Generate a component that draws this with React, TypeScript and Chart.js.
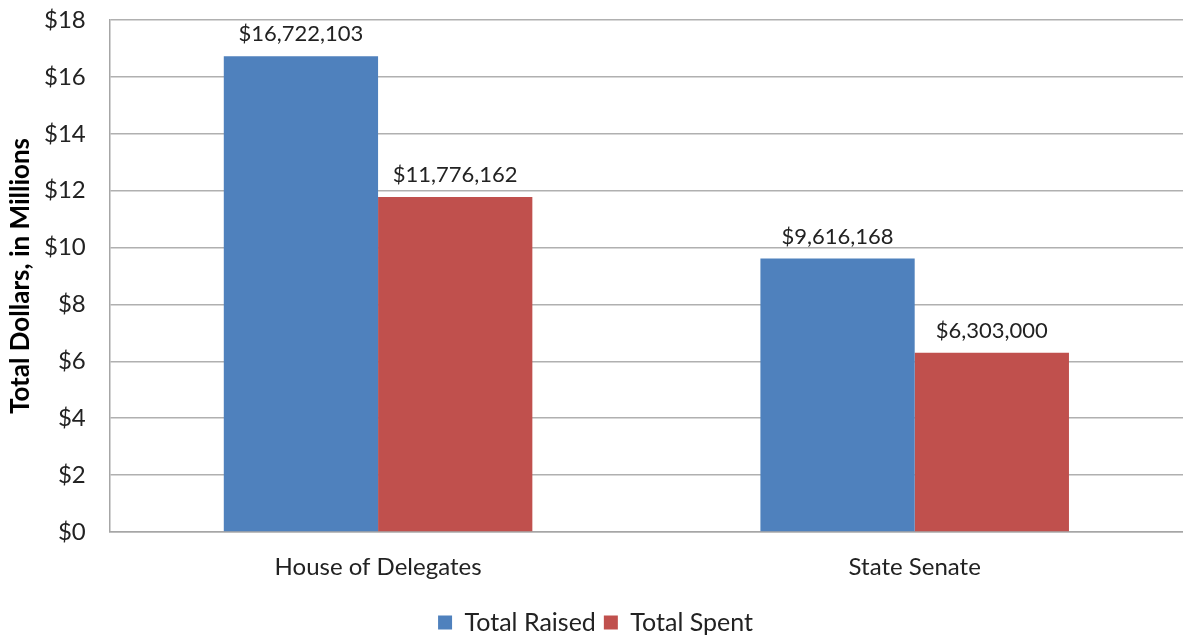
import React, { useEffect, useRef } from "react";
import { Chart, registerables } from "chart.js";

Chart.register(...registerables);

const categories = ["House of Delegates", "State Senate"];
const seriesNames = ["Total Raised", "Total Spent"];
const totalRaised = [16722103, 9616168];
const totalSpent = [11776162, 6303000];
const yTicks = [0, 2, 4, 6, 8, 10, 12, 14, 16, 18];
const colors = ["#4F81BD", "#C0504D"];

const fmt = (v: number) => "$" + v.toLocaleString("en-US");

const labelPlugin = {
  id: "valueLabels",
  afterDatasetsDraw(chart: any) {
    const ctx = chart.ctx;
    ctx.save();
    ctx.font = "22px Lato";
    ctx.fillStyle = "#222";
    ctx.textAlign = "center";
    ctx.textBaseline = "bottom";
    chart.data.datasets.forEach((ds: any, i: number) => {
      const meta = chart.getDatasetMeta(i);
      meta.data.forEach((el: any, j: number) => {
        ctx.fillText(fmt(ds.raw[j]), el.x, el.y - 11);
      });
    });
    ctx.restore();
  },
};

export default function App() {
  const ref = useRef<HTMLCanvasElement>(null);
  useEffect(() => {
    document.body.style.margin = "0";
    const chart = new Chart(ref.current!, {
      type: "bar",
      data: {
        labels: categories,
        datasets: [
          { label: seriesNames[0], data: totalRaised.map((v) => v / 1e6), raw: totalRaised, backgroundColor: colors[0] } as any,
          { label: seriesNames[1], data: totalSpent.map((v) => v / 1e6), raw: totalSpent, backgroundColor: colors[1] } as any,
        ],
      },
      options: {
        animation: false,
        responsive: false,
        maintainAspectRatio: false,
        layout: { padding: { left: 8, right: 0, top: 0, bottom: -8 } },
        datasets: { bar: { barPercentage: 1, categoryPercentage: 0.575 } },
        plugins: {
          legend: {
            position: "bottom",
            labels: {
              boxWidth: 14,
              boxHeight: 14,
              font: { family: "Lato", size: 25 },
              color: "#222",
              padding: 8,
            },
          },
          tooltip: { enabled: false },
        },
        scales: {
          x: {
            grid: { display: false, drawTicks: false },
            border: { color: "#a6a6a6", width: 1.5 },
            ticks: { font: { family: "Lato", size: 24, lineHeight: 1.25 }, color: "#222", padding: 20 },
          },
          y: {
            min: 0,
            max: 18,
            afterBuildTicks: (axis: any) => {
              axis.ticks = yTicks.map((v) => ({ value: v }));
            },
            afterFit: (scale: any) => {
              scale.paddingTop = 20;
              scale.paddingBottom = 14;
            },
            grid: { color: "#b0b0b0", lineWidth: 1.5, drawTicks: false },
            border: { color: "#a6a6a6", width: 1.5 },
            ticks: {
              font: { family: "Lato", size: 24 },
              color: "#222",
              padding: 24,
              callback: (v: any) => "$" + v,
            },
            title: {
              display: true,
              text: "Total Dollars, in Millions",
              font: { family: "Lato", size: 26, weight: "bold", lineHeight: 1 },
              color: "#000",
              padding: { top: 0, bottom: -14 },
            },
          },
        },
      } as any,
      plugins: [labelPlugin],
    });
    return () => chart.destroy();
  }, []);
  return (
    <div style={{ position: "absolute", left: 0, top: 0, width: 1183, height: 637 }}>
      <canvas ref={ref} width={1183} height={637} />
    </div>
  );
}
